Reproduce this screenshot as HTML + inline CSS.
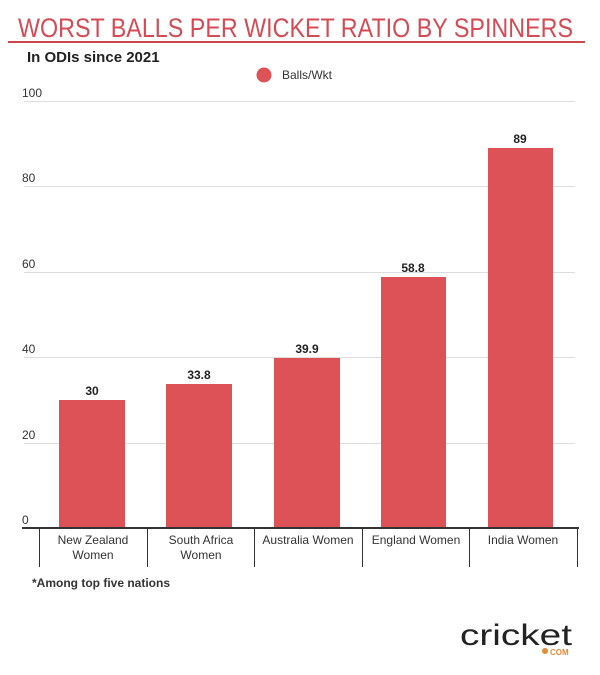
<!DOCTYPE html>
<html><head><style>
body{margin:0;background:#fff;}
svg text{font-family:"Liberation Sans",sans-serif;}
</style></head><body>
<svg width="600" height="670" xmlns="http://www.w3.org/2000/svg">
<text x="18" y="37" font-size="27" fill="#d34b55" textLength="555" lengthAdjust="spacingAndGlyphs">WORST BALLS PER WICKET RATIO BY SPINNERS</text>
<rect x="8" y="41" width="577" height="2" fill="#c9474f"/>
<text x="27" y="62" font-size="15" font-weight="bold" fill="#222">In ODIs since 2021</text>
<circle cx="264" cy="75" r="7.5" fill="#dc5257"/>
<text x="282" y="79" font-size="12" fill="#333">Balls/Wkt</text>
<g stroke="#ddd" stroke-width="1">
<line x1="24" x2="575" y1="101.5" y2="101.5"/>
<line x1="24" x2="575" y1="186.5" y2="186.5"/>
<line x1="24" x2="575" y1="272.5" y2="272.5"/>
<line x1="24" x2="575" y1="357.5" y2="357.5"/>
<line x1="24" x2="575" y1="443.5" y2="443.5"/>
</g>
<g font-size="12" fill="#333">
<text x="22" y="97">100</text><text x="22" y="182">80</text><text x="22" y="268">60</text>
<text x="22" y="353">40</text><text x="22" y="439">20</text><text x="22" y="524">0</text>
</g>
<g fill="#dc5257">
<rect x="59" y="400" width="66" height="128"/>
<rect x="166" y="384" width="66" height="144"/>
<rect x="274" y="358" width="66" height="170"/>
<rect x="381" y="277" width="65" height="251"/>
<rect x="488" y="148" width="65" height="380"/>
</g>
<g font-size="12" font-weight="bold" fill="#222" text-anchor="middle">
<text x="92" y="395">30</text><text x="199" y="379">33.8</text><text x="307" y="353">39.9</text>
<text x="413" y="272">58.8</text><text x="520" y="143">89</text>
</g>
<rect x="22" y="527" width="557" height="2" fill="#333"/>
<g stroke="#333" stroke-width="1">
<line x1="39.5" x2="39.5" y1="529" y2="567"/><line x1="147.5" x2="147.5" y1="529" y2="567"/>
<line x1="254.5" x2="254.5" y1="529" y2="567"/><line x1="362.5" x2="362.5" y1="529" y2="567"/>
<line x1="469.5" x2="469.5" y1="529" y2="567"/><line x1="577.5" x2="577.5" y1="529" y2="567"/>
</g>
<g font-size="12" fill="#333" text-anchor="middle">
<text x="93" y="544">New Zealand</text><text x="93" y="559">Women</text>
<text x="201" y="544">South Africa</text><text x="201" y="559">Women</text>
<text x="308" y="544">Australia Women</text>
<text x="416" y="544">England Women</text>
<text x="523" y="544">India Women</text>
</g>
<text x="32" y="587" font-size="12" font-weight="bold" fill="#333">*Among top five nations</text>
<text x="460" y="645" font-size="30" fill="#222" textLength="112" lengthAdjust="spacingAndGlyphs">cricket</text>
<circle cx="545" cy="651" r="3" fill="#e08a3a"/>
<text x="550" y="655" font-size="8" font-weight="bold" fill="#e08a3a">COM</text>
</svg>
</body></html>
